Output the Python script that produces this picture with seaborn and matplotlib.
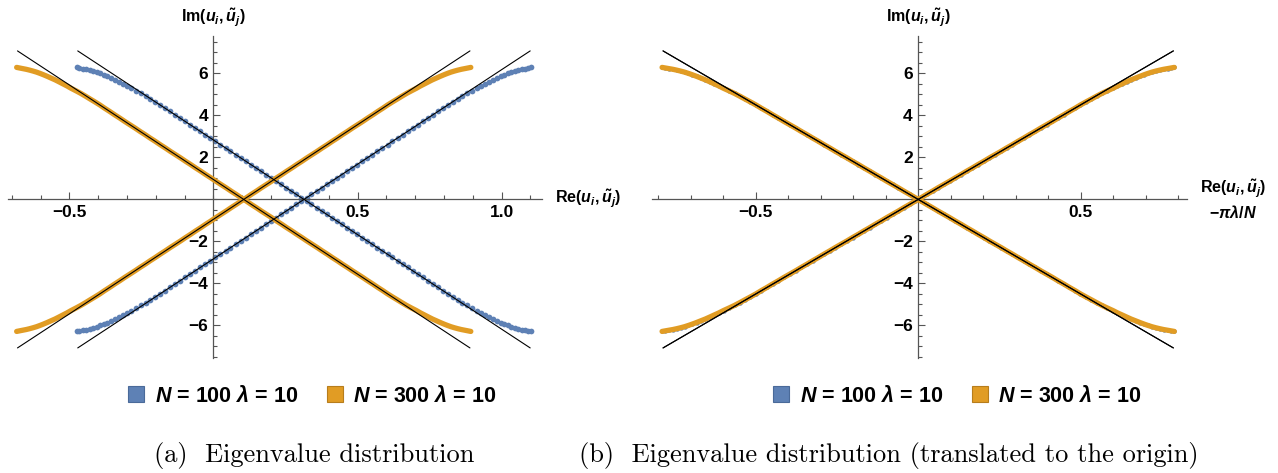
import numpy as np
import pandas as pd
import matplotlib
matplotlib.use("Agg")
import matplotlib.pyplot as plt
from matplotlib.lines import Line2D
from matplotlib.ticker import FixedLocator, MultipleLocator
import seaborn as sns

# one half of one branch (Im >= 0), Re measured from the crossing point
half_im = [0.079, 0.237, 0.395, 0.553, 0.711, 0.869, 1.027, 1.185, 1.343, 1.501,
           1.659, 1.817, 1.975, 2.133, 2.291, 2.449, 2.607, 2.765, 2.923, 3.081,
           3.239, 3.397, 3.555, 3.713, 3.871, 4.029, 4.187, 4.345, 4.495, 4.640,
           4.780, 4.915, 5.045, 5.170, 5.290, 5.400, 5.505, 5.605, 5.695, 5.780,
           5.860, 5.935, 6.000, 6.060, 6.110, 6.155, 6.195, 6.230, 6.260, 6.285]
half_re = [0.009, 0.026, 0.044, 0.061, 0.079, 0.097, 0.114, 0.132, 0.149, 0.167,
           0.184, 0.202, 0.219, 0.237, 0.255, 0.272, 0.290, 0.307, 0.325, 0.342,
           0.360, 0.377, 0.395, 0.413, 0.430, 0.448, 0.465, 0.483, 0.499, 0.516,
           0.533, 0.549, 0.565, 0.582, 0.599, 0.613, 0.628, 0.642, 0.655, 0.669,
           0.682, 0.695, 0.707, 0.719, 0.731, 0.743, 0.755, 0.768, 0.779, 0.788]

# crossing points pi*lambda/N
center_n100 = 0.314
center_n300 = 0.105

# black asymptotes
asym_halfwidth = 0.785
asym_height = 7.07

legend_labels = [r"$N$ = 100 $\lambda$ = 10", r"$N$ = 300 $\lambda$ = 10"]
captions = ["(a)  Eigenvalue distribution",
            "(b)  Eigenvalue distribution (translated to the origin)"]

BLUE = "#5E81B5"
ORANGE = "#E19C24"
AXIS_GRAY = "#555555"


def branches(center):
    im = np.array(half_im)
    re = np.array(half_re)
    xs = np.concatenate([center - re[::-1], center + re])
    rise = pd.DataFrame({"re": xs, "im": np.concatenate([-im[::-1], im]), "branch": "rise"})
    fall = pd.DataFrame({"re": xs, "im": np.concatenate([im[::-1], -im]), "branch": "fall"})
    return pd.concat([rise, fall], ignore_index=True)


def asymptotes(center):
    return pd.DataFrame({
        "re": [center - asym_halfwidth, center + asym_halfwidth,
               center - asym_halfwidth, center + asym_halfwidth],
        "im": [-asym_height, asym_height, asym_height, -asym_height],
        "branch": ["rise", "rise", "fall", "fall"],
    })


sns.set_style("white")
plt.rcParams["font.family"] = ["Liberation Sans", "DejaVu Sans"]
plt.rcParams["font.weight"] = "bold"
plt.rcParams["text.color"] = "black"
plt.rcParams["xtick.color"] = "black"
plt.rcParams["ytick.color"] = "black"
plt.rcParams["mathtext.fontset"] = "custom"
plt.rcParams["mathtext.rm"] = "Liberation Sans:bold"
plt.rcParams["mathtext.bf"] = "Liberation Sans:bold"
plt.rcParams["mathtext.it"] = "Liberation Sans:italic:bold"

fig = plt.figure(figsize=(12.78, 4.73), dpi=100)
ax_a = fig.add_axes([8 / 1278, 1 - 358 / 473, 534 / 1278, 322 / 473])
ax_b = fig.add_axes([652 / 1278, 1 - 358 / 473, 535 / 1278, 322 / 473])


def draw_panel(ax, c100, c300, dot_size):
    sns.scatterplot(data=branches(c100), x="re", y="im", ax=ax, color=BLUE,
                    s=dot_size, linewidth=0, zorder=2, legend=False)
    sns.lineplot(data=branches(c300), x="re", y="im", units="branch", estimator=None,
                 sort=False, ax=ax, color=ORANGE, linewidth=3.8,
                 solid_capstyle="round", zorder=3, legend=False)
    for c in (c100, c300):
        sns.lineplot(data=asymptotes(c), x="re", y="im", units="branch", estimator=None,
                     sort=False, ax=ax, color="black", linewidth=0.8, zorder=4,
                     legend=False)


def style_axes(ax, xlim, xmajor, xlabels):
    ax.set_xlim(*xlim)
    ax.set_ylim(-7.55, 7.78)
    for s in ("top", "right"):
        ax.spines[s].set_visible(False)
    ax.spines["left"].set_position(("data", 0))
    ax.spines["bottom"].set_position(("data", 0))
    for s in ("left", "bottom"):
        ax.spines[s].set_color(AXIS_GRAY)
        ax.spines[s].set_linewidth(0.9)
    ax.xaxis.set_major_locator(FixedLocator(xmajor))
    ax.set_xticklabels(xlabels)
    ax.xaxis.set_minor_locator(MultipleLocator(0.1))
    ax.yaxis.set_major_locator(FixedLocator([-6, -4, -2, 2, 4, 6]))
    ax.set_yticklabels(["\u22126", "\u22124", "\u22122", "2", "4", "6"])
    ax.yaxis.set_minor_locator(MultipleLocator(0.5))
    ax.tick_params(which="both", direction="in", color=AXIS_GRAY, width=0.8,
                   bottom=True, left=True, top=False, right=False,
                   labelsize=12.5, labelcolor="black", pad=4)
    ax.tick_params(which="major", length=5)
    ax.tick_params(which="minor", length=3)
    ax.set_xlabel("")
    ax.set_ylabel("")
    ax.set_facecolor("white")
    ax.annotate(r"Im$(u_i,\tilde{u}_j)$", xy=(0, 1), xycoords=("data", "axes fraction"),
                xytext=(0, 13), textcoords="offset points", ha="center", va="center",
                fontsize=11.5, fontweight="bold")


draw_panel(ax_a, center_n100, center_n300, 17)
style_axes(ax_a, (-0.713, 1.14), [-0.5, 0.5, 1.0], ["\u22120.5", "0.5", "1.0"])
ax_a.annotate(r"Re$(u_i,\tilde{u}_j)$", xy=(1, 0), xycoords=("axes fraction", "data"),
              xytext=(9.5, 0), textcoords="offset points", ha="left", va="center",
              fontsize=11.5, fontweight="bold")

# translated: both sizes collapse onto one curve, N=300 drawn over N=100
draw_panel(ax_b, 0.0, 0.0, 10)
style_axes(ax_b, (-0.819, 0.827), [-0.5, 0.5], ["\u22120.5", "0.5"])
ax_b.annotate("Re$(u_i,\\tilde{u}_j)$\n$-\\pi\\lambda/N$", xy=(1, 0),
              xycoords=("axes fraction", "data"), xytext=(9.5, 0),
              textcoords="offset points", ha="left", va="center",
              multialignment="center", fontsize=11.5, fontweight="bold", linespacing=1.3)

handles = [
    Line2D([], [], linestyle="none", marker="s", markersize=12,
           markerfacecolor=BLUE, markeredgecolor="#4A6A99", markeredgewidth=0.8),
    Line2D([], [], linestyle="none", marker="s", markersize=12,
           markerfacecolor=ORANGE, markeredgecolor="#B77D1C", markeredgewidth=0.8),
]
for cx in (311 / 1278, 956 / 1278):
    fig.legend(handles, legend_labels, loc="center", bbox_to_anchor=(cx, 1 - 396 / 473),
               ncol=2, frameon=False, prop={"weight": "bold", "size": 15.5},
               handlelength=1.0, handletextpad=0.35, columnspacing=1.2)

fig.text(314 / 1278, 1 - 455 / 473, captions[0], family="cmr10", fontsize=19,
         fontweight="normal", ha="center", va="center")
fig.text(889 / 1278, 1 - 455 / 473, captions[1], family="cmr10", fontsize=19,
         fontweight="normal", ha="center", va="center")

fig.savefig("out.png", dpi=100, facecolor="white")
